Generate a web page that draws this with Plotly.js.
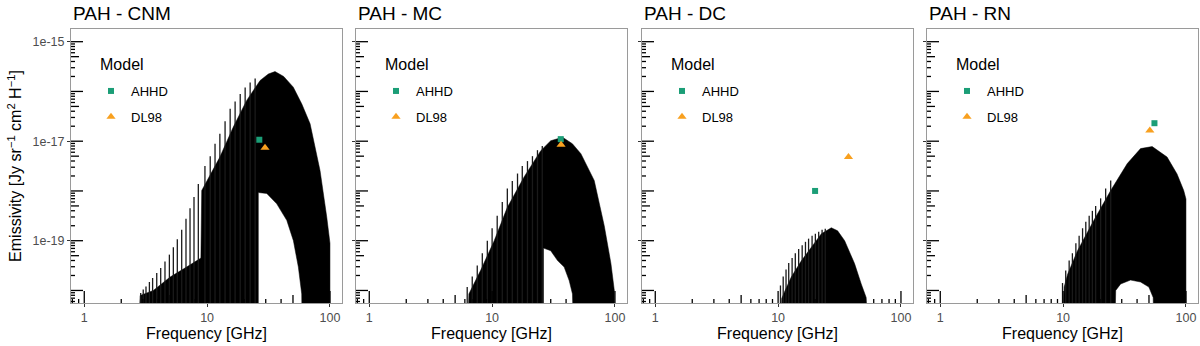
<!DOCTYPE html>
<html>
<head>
<meta charset="utf-8">
<script src="https://cdn.plot.ly/plotly-3.0.1.min.js"></script>
<style>
  html, body { margin: 0; padding: 0; background: #fff; }
  #chart { width: 1200px; height: 346px; }
</style>
</head>
<body>
<div id="chart"></div>
<script>
// panel titles and model names
const panelNames = ['PAH - CNM', 'PAH - MC', 'PAH - DC', 'PAH - RN'];
const models = ['AHHD', 'DL98'];
const legendTitle = 'Model';

// model points, one per panel (GHz, Jy sr^-1 cm^2 H^-1)
const ahhdFreq = [26.6, 36.2, 20.0, 55.4];
const ahhdEmis = [1.07e-17, 1.1e-17, 1.0e-18, 2.3e-17];
const dl98Freq = [29.6, 36.4, 37.4, 50.8];
const dl98Emis = [7.4e-18, 8.5e-18, 4.8e-18, 1.64e-17];

// bottom of the emission lines (below the axis)
const floorEmis = 1e-21;

// CNM spectrum: solid outline, empty pocket under it, separate lines
const cnmEnvFreq = [2.75, 2.85, 3.65, 5.0, 6.8, 8.9, 9.04, 12.7, 16.3, 21.0, 27.0, 31.5, 35.7, 42, 50.3, 59, 68.9, 83, 94.2, 98.9, 100, 100];
const cnmEnvEmis = [1e-21, 7.9e-21, 1.0e-20, 1.86e-20, 2.95e-20, 4.47e-20, 1.02e-18, 4.79e-18, 1.91e-17, 6.61e-17, 1.66e-16, 2.24e-16, 2.51e-16, 2.0e-16, 1.22e-16, 5.6e-17, 2.24e-17, 2.58e-18, 2.96e-19, 1.01e-19, 8.9e-20, 1e-21];
const cnmHoleFreq = [26.1, 26.1, 30.6, 36.9, 44.5, 50.4, 55.3, 58.9, 59.5];
const cnmHoleEmis = [1e-21, 9.3e-19, 8.9e-19, 5.5e-19, 2.57e-19, 1.0e-19, 2.95e-20, 8.5e-21, 1e-21];
const cnmLineFreq = [2.88, 3.02, 3.18, 3.39, 3.60, 3.89, 4.19, 4.54, 4.93, 5.31, 5.72, 6.21, 6.73, 7.26, 7.82, 8.48, 9.6, 10.6, 11.6, 12.7, 14.0, 15.4, 16.9, 18.6, 20.4, 22.4, 24.6];
const cnmLineEmis = [8.9e-21, 1.05e-20, 1.2e-20, 1.48e-20, 1.78e-20, 2.24e-20, 2.82e-20, 3.8e-20, 5.25e-20, 7.4e-20, 1.07e-19, 1.66e-19, 2.75e-19, 4.47e-19, 7.6e-19, 1.38e-18, 3.16e-18, 5.0e-18, 8.9e-18, 1.41e-17, 2.51e-17, 4.47e-17, 6.3e-17, 8.9e-17, 1.2e-16, 1.51e-16, 1.82e-16];

// MC spectrum
const mcEnvFreq = [6.3, 6.47, 7.1, 8.05, 10.4, 13.3, 18.2, 24.9, 30.0, 37.4, 45, 52.8, 67.8, 81.8, 92.7, 98.8, 100];
const mcEnvEmis = [1e-21, 8.5e-21, 1.35e-20, 2.51e-20, 1.0e-19, 4.68e-19, 1.91e-18, 6.46e-18, 1.02e-17, 1.2e-17, 8.9e-18, 5.6e-18, 1.62e-18, 2.0e-19, 3.5e-20, 1.0e-20, 1e-21];
const mcHoleFreq = [26.2, 26.2, 30, 34.1, 38.6, 42.4, 45.1, 46];
const mcHoleEmis = [1e-21, 7.1e-20, 6.3e-20, 3.98e-20, 2.95e-20, 1.58e-20, 8.5e-21, 1e-21];
const mcLineFreq = [6.27, 6.89, 7.57, 8.32, 9.14, 10.0, 11.0, 12.1, 13.3, 14.6, 16.1, 17.6, 19.4, 21.3, 23.4, 25.6];
const mcLineEmis = [1.17e-20, 1.9e-20, 3.16e-20, 5.6e-20, 1.0e-19, 1.78e-19, 3.16e-19, 6.0e-19, 1.12e-18, 1.58e-18, 2.24e-18, 3.16e-18, 3.98e-18, 5.0e-18, 6.6e-18, 8.0e-18];

// DC spectrum (no pocket)
const dcEnvFreq = [10.5, 10.7, 11.4, 12.8, 15.5, 18.7, 22.5, 27.1, 30.5, 34.8, 41.9, 47.5, 52.1, 54.4];
const dcEnvEmis = [1e-21, 6.9e-21, 1.0e-20, 1.86e-20, 3.98e-20, 7.4e-20, 1.38e-19, 1.82e-19, 1.58e-19, 1.0e-19, 3.47e-20, 1.35e-20, 7.2e-21, 1e-21];
const dcHoleFreq = [];
const dcHoleEmis = [];
const dcLineFreq = [10.45, 11.0, 11.6, 12.2, 13.0, 13.8, 14.7, 15.7, 16.7, 17.7, 18.9, 20.1, 21.4, 22.8, 24.2];
const dcLineEmis = [1.26e-20, 1.9e-20, 2.63e-20, 3.55e-20, 4.47e-20, 5.6e-20, 6.8e-20, 8.1e-20, 9.5e-20, 1.1e-19, 1.26e-19, 1.38e-19, 1.51e-19, 1.66e-19, 1.74e-19];

// RN spectrum
const rnEnvFreq = [10.0, 10.2, 10.9, 13.1, 17.8, 24.4, 33.3, 42.7, 53.1, 70.2, 84.6, 95.9, 100, 100];
const rnEnvEmis = [1e-21, 1.17e-20, 2.14e-20, 6.3e-20, 2.57e-19, 1.02e-18, 3.55e-18, 7.1e-18, 7.8e-18, 4.8e-18, 2.19e-18, 1.02e-18, 6.9e-19, 1e-21];
const rnHoleFreq = [26.3, 26.8, 29.4, 35.4, 42.7, 49.9, 54.1, 55];
const rnHoleEmis = [1e-21, 1.0e-20, 1.35e-20, 1.62e-20, 1.48e-20, 1.17e-20, 7.2e-21, 1e-21];
const rnLineFreq = [9.89, 10.5, 11.2, 11.9, 12.7, 13.5, 14.4, 15.3, 16.3, 17.3, 18.4, 20.2, 22.2, 24.4];
const rnLineEmis = [1.41e-20, 2.51e-20, 3.98e-20, 5.6e-20, 8.9e-20, 1.26e-19, 1.78e-19, 2.4e-19, 3.16e-19, 3.98e-19, 5.0e-19, 7.1e-19, 1.12e-18, 1.62e-18];

const spectra = [
  [cnmEnvFreq, cnmEnvEmis, cnmHoleFreq, cnmHoleEmis, cnmLineFreq, cnmLineEmis],
  [mcEnvFreq, mcEnvEmis, mcHoleFreq, mcHoleEmis, mcLineFreq, mcLineEmis],
  [dcEnvFreq, dcEnvEmis, dcHoleFreq, dcHoleEmis, dcLineFreq, dcLineEmis],
  [rnEnvFreq, rnEnvEmis, rnHoleFreq, rnHoleEmis, rnLineFreq, rnLineEmis]
];

const FONT = 'Liberation Sans, Arial, Helvetica, sans-serif';
const green = '#1b9e77';
const orange = '#f8a01f';

// panel placement in pixels
const plotLeft = 71, plotW = 1127, plotH = 274, plotTop = 29;
const panelLeft = [71, 356, 642, 927];
const panelW = 271;

const xRange = [-0.108, 2.098];
const yRange = [-20.252, -14.745];

var data = [];
var shapes = [];
var annotations = [];
var layout = {
  width: 1200,
  height: 346,
  margin: {l: plotLeft, r: 2, t: plotTop, b: 43},
  paper_bgcolor: '#fff',
  plot_bgcolor: '#fff',
  font: {family: FONT, color: '#000'},
  showlegend: true
};

// paper y of a pixel row
const paperY = row => 1 - (row - plotTop) / plotH;

for (let i = 0; i < 4; i++) {
  const sfx = i ? String(i + 1) : '';
  const xa = 'x' + sfx, ya = 'y' + sfx;
  const [envF, envE, holeF, holeE, lineF, lineE] = spectra[i];

  // filled outline, with the empty pocket cut out of it
  let px = envF.slice(), py = envE.slice();
  for (let k = holeF.length - 1; k >= 0; k--) {
    px.push(holeF[k]);
    py.push(holeE[k]);
  }
  data.push({
    x: px, y: py, xaxis: xa, yaxis: ya,
    type: 'scatter', mode: 'lines', fill: 'toself',
    fillcolor: '#000', line: {color: '#000', width: 0.5},
    hoverinfo: 'skip', showlegend: false
  });

  // single emission lines
  let lx = [], ly = [];
  for (let k = 0; k < lineF.length; k++) {
    lx.push(lineF[k], lineF[k], null);
    ly.push(floorEmis, lineE[k], null);
  }
  data.push({
    x: lx, y: ly, xaxis: xa, yaxis: ya,
    type: 'scatter', mode: 'lines',
    line: {color: '#1a1a1a', width: 1.3},
    hoverinfo: 'skip', showlegend: false
  });

  const lg = i ? 'legend' + (i + 1) : 'legend';
  data.push({
    x: [ahhdFreq[i]], y: [ahhdEmis[i]], xaxis: xa, yaxis: ya,
    type: 'scatter', mode: 'markers', name: models[0],
    legend: lg, legendgroup: models[0] + i,
    marker: {symbol: 'square', size: 6, color: green}
  });
  data.push({
    x: [dl98Freq[i]], y: [dl98Emis[i]], xaxis: xa, yaxis: ya,
    type: 'scatter', mode: 'markers', name: models[1],
    legend: lg, legendgroup: models[1] + i,
    marker: {symbol: 'triangle-up', size: 8, color: orange}
  });

  const d0 = (panelLeft[i] - plotLeft) / plotW;
  const d1 = (panelLeft[i] - plotLeft + panelW) / plotW;

  layout['xaxis' + sfx] = {
    type: 'log', range: xRange, domain: [d0, d1], anchor: ya,
    showgrid: false, zeroline: false,
    showline: true, mirror: true, linecolor: '#9a9a9a', linewidth: 1,
    tickvals: [1, 10, 100], ticktext: ['1', '10', '100'],
    ticks: 'outside', ticklen: 3, tickcolor: '#333', tickwidth: 1,
    tickfont: {size: 12.5, color: '#4d4d4d'},
    title: {text: 'Frequency [GHz]', font: {size: 16, color: '#000'}, standoff: 2}
  };
  layout['yaxis' + sfx] = {
    type: 'log', range: yRange, anchor: xa,
    showgrid: false, zeroline: false,
    showline: true, mirror: true, linecolor: '#9a9a9a', linewidth: 1,
    tickvals: [1e-15, 1e-17, 1e-19],
    ticktext: ['1e-15', '1e-17', '1e-19'],
    showticklabels: i === 0,
    ticks: 'outside', ticklen: 3, tickcolor: '#333', tickwidth: 1,
    tickfont: {size: 12.5, color: '#4d4d4d'}
  };
  if (i === 0) {
    layout.yaxis.title = {
      text: 'Emissivity [Jy sr<sup>\u22121</sup> cm<sup>2</sup> H<sup>\u22121</sup>]',
      font: {size: 16, color: '#000'}, standoff: 6
    };
  }

  layout[lg] = {
    x: (panelLeft[i] - plotLeft + 20) / plotW, xanchor: 'left',
    y: paperY(76), yanchor: 'top',
    bgcolor: 'rgba(0,0,0,0)', borderwidth: 0,
    font: {size: 13, color: '#000'},
    tracegroupgap: 6
  };

  // legend heading
  annotations.push({
    text: legendTitle, xref: 'paper', yref: 'paper',
    x: (panelLeft[i] - plotLeft + 27) / plotW, y: paperY(64),
    xanchor: 'left', yanchor: 'middle',
    showarrow: false, font: {size: 16, color: '#000'}
  });

  annotations.push({
    text: panelNames[i], xref: 'paper', yref: 'paper',
    x: d0, y: 1, xanchor: 'left', yanchor: 'bottom', yshift: 3,
    showarrow: false, font: {size: 19, color: '#000'}
  });

  // log ticks inside the panel: long at decades, mid at 5, short elsewhere
  const tickLen = m => (m === 1 ? 12 : (m === 5 ? 8 : 4));
  for (let dec = -1; dec <= 2; dec++) {
    for (let m = 1; m <= 9; m++) {
      const v = m * Math.pow(10, dec);
      const lv = Math.log10(v);
      if (lv < xRange[0] || lv > xRange[1]) continue;
      shapes.push({
        type: 'line', xref: xa, yref: ya + ' domain',
        x0: v, x1: v, y0: 0, y1: tickLen(m) / plotH,
        line: {color: '#000', width: 1.3}, layer: 'above'
      });
    }
  }
  for (let dec = -21; dec <= -15; dec++) {
    for (let m = 1; m <= 9; m++) {
      const v = m * Math.pow(10, dec);
      const lv = Math.log10(v);
      if (lv < yRange[0] || lv > yRange[1]) continue;
      shapes.push({
        type: 'line', xref: xa + ' domain', yref: ya,
        x0: 0, x1: tickLen(m) / panelW, y0: v, y1: v,
        line: {color: '#000', width: 1.3}, layer: 'above'
      });
    }
  }
}

layout.shapes = shapes;
layout.annotations = annotations;

Plotly.newPlot('chart', data, layout, {displayModeBar: false, staticPlot: true});
</script>
</body>
</html>
